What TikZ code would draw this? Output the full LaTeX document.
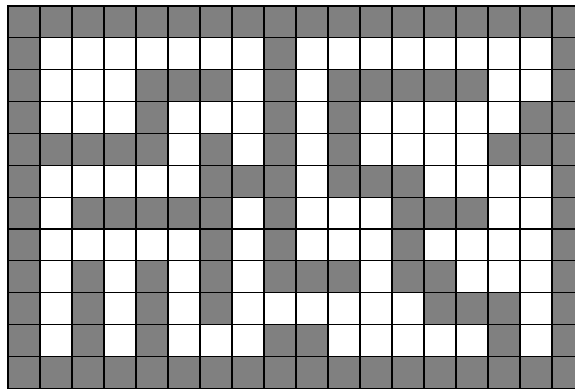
\documentclass[tikz,border=0pt]{standalone}
\definecolor{c0}{HTML}{FFFFFF}
\definecolor{c1}{HTML}{808080}
\begin{document}
\begin{tikzpicture}[x=1pt,y=-1pt, cell/.style={draw=black, line width=1.2pt}]
\useasboundingbox (0,0) rectangle (575,390);
\clip (0,0) rectangle (575,390);
\foreach \row [count=\r from 0] in {
{1,1,1,1,1,1,1,1,1,1,1,1,1,1,1,1,1,1},
{1,0,0,0,0,0,0,0,1,0,0,0,0,0,0,0,0,1},
{1,0,0,0,1,1,1,0,1,0,1,1,1,1,1,0,0,1},
{1,0,0,0,1,0,0,0,1,0,1,0,0,0,0,0,1,1},
{1,1,1,1,1,0,1,0,1,0,1,0,0,0,0,1,1,1},
{1,0,0,0,0,0,1,1,1,0,1,1,1,0,0,0,0,1},
{1,0,1,1,1,1,1,0,1,0,0,0,1,1,1,0,0,1},
{1,0,0,0,0,0,1,0,1,0,0,0,1,0,0,0,0,1},
{1,0,1,0,1,0,1,0,1,1,1,0,1,1,0,0,0,1},
{1,0,1,0,1,0,1,0,0,0,0,0,0,1,1,1,0,1},
{1,0,1,0,1,0,0,0,1,1,0,0,0,0,0,1,0,1},
{1,1,1,1,1,1,1,1,1,1,1,1,1,1,1,1,1,1}}
{
  \foreach \v [count=\c from 0] in \row {
    \filldraw[cell, fill=c\v] ({\c*32+8},{\r*31.85+6}) rectangle ++(32,31.85);
  }
}
\end{tikzpicture}
\end{document}
